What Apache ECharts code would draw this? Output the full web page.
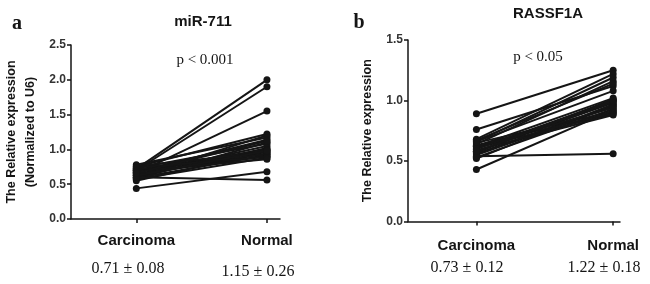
<!DOCTYPE html>
<html>
<head>
<meta charset="utf-8">
<script src="https://cdn.jsdelivr.net/npm/echarts@6/dist/echarts.min.js"></script>
<style>
  html, body { margin: 0; padding: 0; background: #fff; }
  #chart { width: 650px; height: 284px; }
</style>
</head>
<body>
<div id="chart"></div>
<script>
// groups on the x axis and where they sit
const categories = ['Carcinoma', 'Normal'];
const xPos = [0.5, 1.5];

// panel a: miR-711, one pair per patient
const mirCarcinoma = [0.72, 0.70, 0.66, 0.75, 0.62, 0.78, 0.68, 0.58, 0.73, 0.64, 0.60, 0.70, 0.67, 0.55, 0.76, 0.63, 0.71, 0.59, 0.65, 0.74, 0.57, 0.69, 0.62, 0.44, 0.60, 0.66];
const mirNormal    = [2.00, 1.90, 1.55, 1.22, 1.20, 1.17, 1.14, 1.10, 1.08, 1.05, 1.02, 1.00, 0.99, 0.97, 0.96, 0.94, 0.93, 0.92, 0.90, 0.89, 0.88, 0.86, 0.98, 0.68, 0.56, 1.12];

// panel b: RASSF1A
const rasCarcinoma = [0.89, 0.76, 0.68, 0.66, 0.64, 0.62, 0.60, 0.58, 0.56, 0.55, 0.53, 0.65, 0.63, 0.61, 0.59, 0.57, 0.67, 0.52, 0.43, 0.54, 0.62, 0.60, 0.66, 0.58];
const rasNormal    = [1.25, 1.12, 1.22, 1.19, 1.16, 1.02, 1.00, 0.98, 0.96, 0.95, 0.93, 0.91, 0.90, 0.89, 0.88, 1.01, 1.14, 0.97, 0.92, 0.56, 0.94, 0.99, 1.08, 1.00];

const mirStats = ['0.71 ± 0.08', '1.15 ± 0.26'];
const rasStats = ['0.73 ± 0.12', '1.22 ± 0.18'];

const sans = '"Liberation Sans", Arial, sans-serif';
const serif = '"Liberation Serif", "Times New Roman", serif';
const ink = '#151515';

const chart = echarts.init(document.getElementById('chart'));

// one line series per patient (carcinoma -> normal)
const pairSeries = (carc, norm, idx) => carc.map((c, i) => ({
  type: 'line',
  xAxisIndex: idx,
  yAxisIndex: idx,
  data: [[xPos[0], c], [xPos[1], norm[i]]],
  symbol: 'circle',
  symbolSize: 7,
  lineStyle: { color: ink, width: 2 },
  itemStyle: { color: ink },
  silent: true
}));

const makeX = (idx, max, margin) => ({
  type: 'value',
  gridIndex: idx,
  min: 0,
  max: max,
  splitLine: { show: false },
  axisLine: { lineStyle: { color: ink, width: 1.5 } },
  axisTick: { customValues: xPos, length: 4, lineStyle: { color: ink, width: 1.5 } },
  axisLabel: {
    customValues: xPos,
    formatter: (v) => categories[xPos.indexOf(v)],
    margin: margin,
    color: ink,
    fontFamily: sans,
    fontWeight: 'bold',
    fontSize: 15
  }
});

const makeY = (idx, max, name, gap) => ({
  type: 'value',
  gridIndex: idx,
  min: 0,
  max: max,
  interval: 0.5,
  name: name,
  nameLocation: 'middle',
  nameGap: gap,
  nameTextStyle: { color: ink, fontFamily: sans, fontWeight: 'bold', fontSize: 12.5, lineHeight: 19 },
  splitLine: { show: false },
  axisLine: { show: true, lineStyle: { color: ink, width: 1.5 } },
  axisTick: { show: true, length: 4, lineStyle: { color: ink, width: 1.5 } },
  axisLabel: {
    formatter: (v) => v.toFixed(1),
    margin: 5,
    color: '#333',
    fontFamily: sans,
    fontWeight: 'bold',
    fontSize: 12
  }
});

const txt = (x, y, text, font, size, weight) => ({
  type: 'text',
  x: x,
  y: y,
  style: {
    text: text,
    fill: ink,
    font: `${weight} ${size}px ${font}`,
    textAlign: 'center',
    textVerticalAlign: 'middle'
  }
});

chart.setOption({
  animation: false,
  grid: [
    { left: 71, top: 45, width: 209, height: 174 },
    { left: 408, top: 40, width: 212, height: 181.5 }
  ],
  xAxis: [makeX(0, 1.6, 14), makeX(1, 1.55, 17)],
  yAxis: [
    makeY(0, 2.5, 'The Relative expression\n(Normalized to U6)', 31),
    makeY(1, 1.5, 'The Relative expression', 31)
  ],
  graphic: [
    txt(17, 24, 'a', serif, 20, 'bold'),
    txt(203, 22, 'miR-711', sans, 15, 'bold'),
    txt(205, 60, 'p < 0.001', serif, 15, 'normal'),
    txt(128, 269, mirStats[0], serif, 16, 'normal'),
    txt(258, 272, mirStats[1], serif, 16, 'normal'),
    txt(359, 23, 'b', serif, 20, 'bold'),
    txt(548, 14, 'RASSF1A', sans, 15, 'bold'),
    txt(538, 57, 'p < 0.05', serif, 15, 'normal'),
    txt(467, 268, rasStats[0], serif, 16, 'normal'),
    txt(604, 268, rasStats[1], serif, 16, 'normal')
  ],
  series: [
    ...pairSeries(mirCarcinoma, mirNormal, 0),
    ...pairSeries(rasCarcinoma, rasNormal, 1)
  ]
});
</script>
</body>
</html>
